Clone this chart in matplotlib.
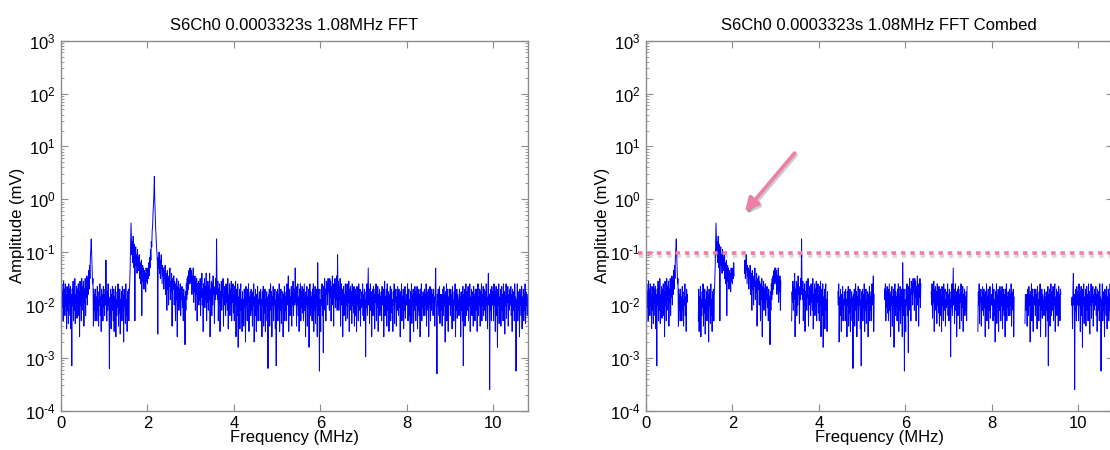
import numpy as np
import matplotlib
matplotlib.use("Agg")
import matplotlib.pyplot as plt
import matplotlib.patheffects as pe
from matplotlib.ticker import LogLocator, FixedLocator, FuncFormatter, NullFormatter

plt.rcParams['font.family'] = ['Liberation Sans', 'DejaVu Sans']

# ---------------- data ----------------
titles = ["S6Ch0 0.0003323s 1.08MHz FFT", "S6Ch0 0.0003323s 1.08MHz FFT Combed"]
xlabel = "Frequency (MHz)"
ylabel = "Amplitude (mV)"
freq_step_MHz = 0.01          # spacing of the sampled spectrum points
# log10 of amplitude (mV), one value every 0.01 MHz from 0 to 10.8 MHz (rows of 0.2 MHz)
amp_log10 = [
    -1.45, -1.9, -1.6, -2.05, -1.75, -2.3, -1.55, -1.95, -1.7, -2.2, -1.6, -2.0, -1.8, -2.45, -1.65, -2.1, -1.75, -2.35, -1.6, -1.95,
    -1.7, -2.2, -1.65, -2.45, -1.8, -3.15, -1.7, -2.0, -1.55, -2.3, -1.75, -2.1, -1.5, -2.35, -1.8, -2.0, -1.65, -2.25, -1.7, -1.95,
    -1.6, -2.2, -1.75, -2.6, -1.55, -2.0, -1.8, -2.3, -1.5, -1.9, -1.65, -2.1, -1.55, -2.4, -1.7, -1.95, -1.5, -2.2, -1.6, -1.85,
    -1.45, -2.0, -1.5, -1.8, -1.35, -1.7, -1.25, -1.5, -1.1, -0.95, -0.75, -1.0, -1.3, -1.6, -1.5, -2.4, -1.7, -2.1, -1.8, -2.3,
    -1.7, -2.0, -1.85, -2.3, -1.65, -2.1, -1.9, -2.4, -1.75, -2.0, -1.6, -2.2, -1.85, -2.5, -1.7, -1.95, -1.8, -2.3, -1.65, -2.05,
    -1.8, -2.2, -1.7, -2.0, -1.15, -1.9, -2.3, -1.75, -2.1, -1.6, -2.0, -1.85, -3.2, -1.9, -2.2, -1.7, -2.45, -1.8, -2.1, -1.65,
    -1.9, -2.3, -1.7, -2.5, -1.85, -2.0, -1.65, -2.6, -1.9, -2.2, -1.75, -2.05, -1.6, -2.4, -1.85, -2.15, -1.7, -2.55, -1.9, -2.0,
    -1.75, -2.3, -1.65, -2.1, -1.8, -2.7, -1.7, -2.0, -1.85, -2.35, -1.6, -2.2, -1.9, -2.5, -1.75, -2.05, -1.7, -2.3, -1.8, -1.6,
    -1.3, -0.9, -0.45, -0.75, -1.05, -0.8, -1.2, -0.7, -0.95, -1.3, -0.85, -2.3, -1.0, -0.9, -1.25, -1.05, -1.4, -0.95, -1.2, -1.1,
    -1.35, -1.05, -1.5, -1.2, -1.3, -1.6, -1.15, -2.2, -1.35, -1.25, -1.55, -1.3, -1.7, -1.35, -1.5, -1.4, -1.75, -1.3, -1.55, -1.4,
    -1.6, -1.3, -1.5, -1.2, -1.45, -1.1, -1.3, -0.95, -1.15, -0.8, -0.9, -0.6, -0.5, -0.25, -0.1, 0.1, 0.43, 0.0, -0.3, -0.55,
    -0.7, -0.9, -1.0, -1.2, -2.55, -1.1, -1.3, -1.0, -1.4, -1.15, -1.5, -1.2, -1.05, -1.35, -1.6, -1.25, -1.45, -1.3, -1.7, -1.35,
    -1.5, -1.25, -1.8, -1.4, -1.6, -2.1, -1.35, -1.7, -1.5, -2.0, -1.45, -1.65, -1.3, -1.9, -1.55, -1.75, -1.4, -2.4, -1.6, -1.5,
    -1.7, -1.45, -2.0, -1.55, -1.8, -2.3, -1.6, -1.9, -1.5, -2.6, -1.65, -1.85, -1.55, -2.1, -1.7, -1.95, -1.6, -2.2, -1.75, -1.9,
    -1.65, -2.05, -1.8, -2.3, -1.7, -2.0, -1.85, -2.75, -1.75, -2.1, -1.6, -1.9, -1.5, -1.8, -1.45, -1.7, -1.35, -1.6, -1.3, -1.55,
    -1.3, -1.6, -1.35, -1.8, -1.45, -1.7, -1.3, -1.95, -1.5, -1.75, -1.45, -2.1, -1.55, -1.8, -1.5, -2.3, -1.6, -1.85, -1.55, -2.0,
    -1.6, -1.9, -1.5, -2.2, -1.65, -1.85, -1.4, -2.0, -1.7, -2.5, -1.6, -1.8, -1.5, -2.05, -1.65, -1.9, -1.4, -2.3, -1.75, -1.95,
    -1.55, -2.1, -1.65, -1.9, -1.4, -2.6, -1.7, -1.85, -1.55, -2.2, -1.6, -2.0, -1.45, -1.8, -1.65, -2.35, -1.7, -1.9, -1.5, -1.8,
    -0.75, -1.6, -1.9, -1.55, -2.3, -1.7, -2.0, -1.6, -2.5, -1.75, -1.95, -1.55, -2.1, -1.7, -1.85, -1.5, -2.4, -1.8, -2.0, -1.65,
    -1.7, -2.2, -1.6, -1.95, -1.75, -2.1, -1.5, -2.45, -1.8, -1.9, -1.6, -2.2, -1.7, -2.0, -1.55, -2.3, -1.75, -1.95, -1.6, -2.15,
    -1.8, -2.3, -1.65, -2.0, -1.55, -2.6, -1.9, -1.7, -2.2, -1.6, -2.8, -1.85, -2.0, -1.7, -2.45, -1.8, -1.6, -2.1, -1.9, -2.5,
    -1.75, -2.2, -1.9, -2.4, -1.7, -2.05, -1.85, -2.7, -1.65, -2.0, -1.8, -2.3, -1.7, -1.95, -1.6, -2.5, -1.85, -2.1, -1.75, -2.2,
    -1.7, -2.1, -1.9, -2.4, -1.75, -2.0, -1.6, -2.7, -1.85, -2.2, -1.7, -1.95, -2.5, -1.8, -2.1, -1.65, -2.3, -1.9, -2.0, -1.75,
    -1.85, -2.3, -1.7, -2.05, -1.9, -2.6, -1.75, -2.0, -1.65, -2.4, -1.85, -2.15, -1.7, -2.5, -1.9, -2.0, -1.75, -2.3, -1.85, -3.2,
    -1.8, -2.2, -1.7, -2.4, -1.9, -1.6, -2.1, -1.75, -2.6, -1.85, -2.0, -1.65, -2.3, -1.8, -2.0, -1.7, -2.45, -1.9, -3.15, -1.75,
    -2.0, -1.7, -2.3, -1.8, -2.05, -1.6, -2.5, -1.85, -2.1, -1.7, -2.35, -1.9, -2.0, -1.75, -2.6, -1.8, -2.15, -1.65, -2.3, -1.85,
    -2.1, -1.75, -2.3, -1.6, -1.9, -2.0, -1.45, -2.5, -1.8, -1.7, -2.2, -1.85, -1.95, -1.65, -2.4, -1.8, -2.0, -1.55, -2.2, -1.85,
    -1.7, -2.0, -1.3, -1.95, -1.65, -2.4, -1.8, -2.0, -1.6, -2.2, -1.85, -2.5, -1.7, -1.9, -1.6, -2.3, -1.75, -2.05, -1.65, -2.15,
    -1.7, -2.3, -1.9, -1.6, -2.1, -1.8, -2.6, -1.75, -2.0, -1.65, -2.4, -1.85, -2.0, -1.7, -2.8, -1.9, -1.6, -2.2, -1.75, -2.05,
    -1.85, -2.3, -1.7, -2.0, -1.6, -2.5, -1.8, -2.1, -1.65, -2.35, -1.9, -2.0, -1.7, -2.6, -1.2, -1.85, -2.2, -1.7, -3.25, -1.9,
    -1.9, -2.5, -1.7, -2.0, -1.6, -2.2, -1.8, -2.9, -1.65, -1.9, -1.5, -2.1, -1.7, -2.3, -1.55, -1.8, -1.6, -2.0, -1.5, -1.75,
    -1.6, -2.1, -1.5, -1.85, -1.55, -2.3, -1.65, -1.9, -1.45, -2.0, -1.6, -2.4, -1.7, -1.85, -1.5, -2.05, -1.6, -1.9, -1.45, -2.1,
    -1.05, -1.8, -1.55, -2.1, -1.65, -1.9, -1.5, -2.4, -1.75, -1.6, -2.0, -1.7, -2.6, -1.85, -1.65, -2.2, -1.8, -2.0, -1.6, -2.3,
    -1.75, -2.0, -1.6, -2.25, -1.8, -1.95, -1.55, -2.5, -1.7, -2.1, -1.65, -1.9, -1.75, -2.35, -1.6, -2.0, -1.8, -2.15, -1.65, -2.4,
    -1.9, -1.7, -2.2, -1.8, -2.5, -1.65, -2.0, -1.75, -2.3, -1.6, -2.1, -1.85, -1.7, -2.4, -1.9, -2.05, -1.75, -2.0, -1.6, -2.2,
    -1.8, -2.3, -1.7, -2.0, -1.9, -2.98, -1.75, -2.05, -1.6, -2.2, -1.8, -1.3, -2.0, -1.7, -2.35, -1.85, -1.6, -2.1, -1.75, -2.6,
    -1.9, -1.7, -2.2, -1.65, -2.0, -1.8, -2.45, -1.7, -1.95, -1.6, -2.3, -1.75, -2.05, -1.65, -2.5, -1.8, -2.0, -1.7, -2.2, -1.85,
    -2.1, -1.75, -2.3, -1.65, -1.9, -2.0, -1.7, -2.6, -1.8, -1.55, -2.2, -1.85, -2.0, -1.7, -2.4, -1.6, -1.9, -2.1, -1.75, -2.5,
    -1.8, -2.05, -1.65, -2.3, -1.85, -1.7, -2.15, -1.9, -2.5, -1.75, -2.0, -1.6, -2.35, -1.8, -1.95, -1.7, -2.4, -1.85, -2.1, -1.65,
    -1.9, -2.2, -1.7, -2.05, -1.8, -2.6, -1.75, -1.95, -1.6, -2.3, -1.85, -2.0, -1.7, -2.45, -1.8, -2.1, -1.65, -2.25, -1.9, -2.0,
    -1.8, -2.0, -1.6, -2.3, -1.85, -1.7, -2.2, -1.9, -2.7, -1.75, -2.0, -1.6, -2.35, -1.8, -1.95, -1.7, -2.5, -1.85, -2.1, -1.65,
    -1.9, -2.3, -1.75, -2.0, -1.65, -2.45, -1.85, -2.1, -1.7, -2.2, -1.8, -2.6, -1.7, -1.95, -1.6, -2.3, -1.85, -2.05, -1.75, -2.2,
    -1.9, -1.7, -2.2, -1.8, -2.0, -1.6, -2.4, -1.75, -1.95, -2.1, -1.7, -2.6, -1.85, -2.0, -1.65, -2.3, -1.8, -2.1, -1.7, -1.95,
    -1.8, -2.2, -1.7, -2.05, -1.85, -2.4, -1.75, -1.3, -1.9, -2.1, -3.3, -1.8, -2.0, -1.7, -2.2, -1.9, -1.65, -2.35, -1.8, -2.0,
    -2.1, -1.8, -2.4, -1.7, -1.95, -2.2, -1.65, -2.0, -1.8, -2.7, -1.75, -2.1, -1.6, -2.3, -1.9, -1.7, -2.5, -1.85, -2.0, -1.7,
    -1.85, -2.2, -1.7, -2.0, -1.8, -2.45, -1.65, -2.05, -1.9, -2.3, -1.75, -2.0, -1.6, -2.6, -1.85, -2.1, -1.7, -2.25, -1.8, -1.95,
    -1.9, -2.2, -1.7, -2.0, -1.85, -2.6, -1.75, -2.1, -1.9, -2.3, -1.65, -3.15, -1.8, -2.0, -1.7, -2.4, -1.85, -1.6, -2.2, -1.9,
    -1.75, -2.1, -1.65, -2.3, -1.8, -2.0, -1.6, -2.5, -1.85, -2.05, -1.7, -2.2, -1.9, -1.75, -2.4, -1.65, -2.0, -1.8, -2.3, -1.7,
    -1.8, -2.1, -1.7, -2.5, -1.9, -1.6, -2.2, -1.85, -2.0, -1.7, -2.4, -1.75, -2.05, -1.6, -2.3, -1.8, -2.0, -1.65, -2.2, -1.85,
    -1.7, -2.1, -1.75, -2.3, -1.6, -2.0, -1.85, -2.45, -1.7, -1.4, -2.0, -1.8, -3.6, -1.9, -2.1, -1.7, -2.3, -1.65, -2.0, -1.75,
    -1.9, -2.3, -1.6, -2.0, -1.75, -2.5, -1.8, -1.65, -2.2, -1.9, -2.8, -1.7, -2.0, -1.6, -2.35, -1.85, -2.1, -1.7, -2.4, -1.8,
    -1.65, -2.1, -1.8, -2.3, -1.6, -2.0, -1.75, -2.55, -1.85, -2.0, -1.6, -2.25, -1.75, -1.95, -1.65, -2.4, -1.8, -2.1, -1.7, -2.0,
    -2.0, -1.65, -2.2, -1.8, -2.5, -1.7, -1.9, -2.1, -1.75, -2.3, -1.6, -2.0, -1.85, -3.25, -1.9, -2.0, -1.6, -2.3, -1.75, -2.1,
    -1.85, -2.6, -1.7, -2.0, -1.8, -2.2, -1.65, -2.45, -1.85, -2.0, -1.7, -2.3, -1.8, -2.1, -1.6, -2.35, -1.75, -2.0, -1.85, -2.2,
    -1.8,
]
# comb: removed bands centred on multiples of 1.08 MHz
comb_gap_centers_MHz = [1.08, 2.16, 3.24, 4.32, 5.40, 6.48, 7.56, 8.64, 9.72]
comb_gap_halfwidth_MHz = 0.12
threshold_mV = 0.095
arrow_tail = (3.44, 7.5)
arrow_head = (2.29, 0.58)

xlim = (0, 10.8)
ylim = (1e-4, 1e3)
xticks = [0, 2, 4, 6, 8, 10]

# ---------------- derived series ----------------
freq = np.arange(len(amp_log10)) * freq_step_MHz
amp = 10.0 ** np.array(amp_log10)
amp_comb = amp.copy()
for c in comb_gap_centers_MHz:
    amp_comb[np.abs(freq - c) < comb_gap_halfwidth_MHz] = np.nan

HYPHEN = '\u2010'


def log_label(v, pos):
    e = int(round(np.log10(v)))
    if e < 0:
        return '$\\mathdefault{10^{' + HYPHEN + str(-e) + '}}$'
    return '$\\mathdefault{10^{' + str(e) + '}}$'


# ---------------- figure ----------------
W, H = 1110, 450
fig = plt.figure(figsize=(W / 100, H / 100), dpi=100)
ax_l = fig.add_axes([61 / W, (H - 410.7) / H, 466.7 / W, 370 / H])
ax_r = fig.add_axes([646 / W, (H - 410.7) / H, 466.7 / W, 370 / H])

spine_col = '#8c8c8c'
for ax, title, y in ((ax_l, titles[0], amp), (ax_r, titles[1], amp_comb)):
    ax.plot(freq, y, color='#0000ff', lw=0.7)
    ax.set_yscale('log')
    ax.set_xlim(*xlim)
    ax.set_ylim(*ylim)
    ax.xaxis.set_major_locator(FixedLocator(xticks))
    ax.yaxis.set_major_locator(LogLocator(base=10, numticks=20))
    ax.yaxis.set_minor_locator(LogLocator(base=10, subs=np.arange(2, 10), numticks=20))
    ax.yaxis.set_major_formatter(FuncFormatter(log_label))
    ax.yaxis.set_minor_formatter(NullFormatter())
    ax.tick_params(which='both', direction='in', top=True, right=True,
                   color=spine_col, labelsize=12, labelcolor='black')
    ax.tick_params(which='major', length=5, width=0.8, pad=4)
    ax.tick_params(which='minor', length=2.5, width=0.6)
    for s in ax.spines.values():
        s.set_color(spine_col)
        s.set_linewidth(1.0)
    ax.set_title(title, fontsize=12, pad=8)
    ax.set_xlabel(xlabel, fontsize=12, labelpad=-1)
    ax.set_ylabel(ylabel, fontsize=12)
    ax.yaxis.set_label_coords(-0.078, 0.5)

# threshold dotted line and arrow on combed panel
pink = '#ef7fa2'
shadow = [pe.SimpleLineShadow(offset=(0.5, -2), alpha=0.15, shadow_color='black'), pe.Normal()]
ax_r.plot([-0.18, 11.5], [threshold_mV, threshold_mV], color=pink, lw=2.6,
          linestyle=(0, (1.25, 1.35)), clip_on=False, path_effects=shadow, zorder=5)
ax_r.annotate('', xy=arrow_head, xytext=arrow_tail,
              arrowprops=dict(arrowstyle='-|>,head_length=0.8,head_width=0.4', color=pink, lw=2.6,
                              shrinkA=0, shrinkB=0,
                              path_effects=[pe.SimpleLineShadow(offset=(1, -1.5), alpha=0.2), pe.Normal()]),
              zorder=6)

fig.savefig('out.png', dpi=100)
